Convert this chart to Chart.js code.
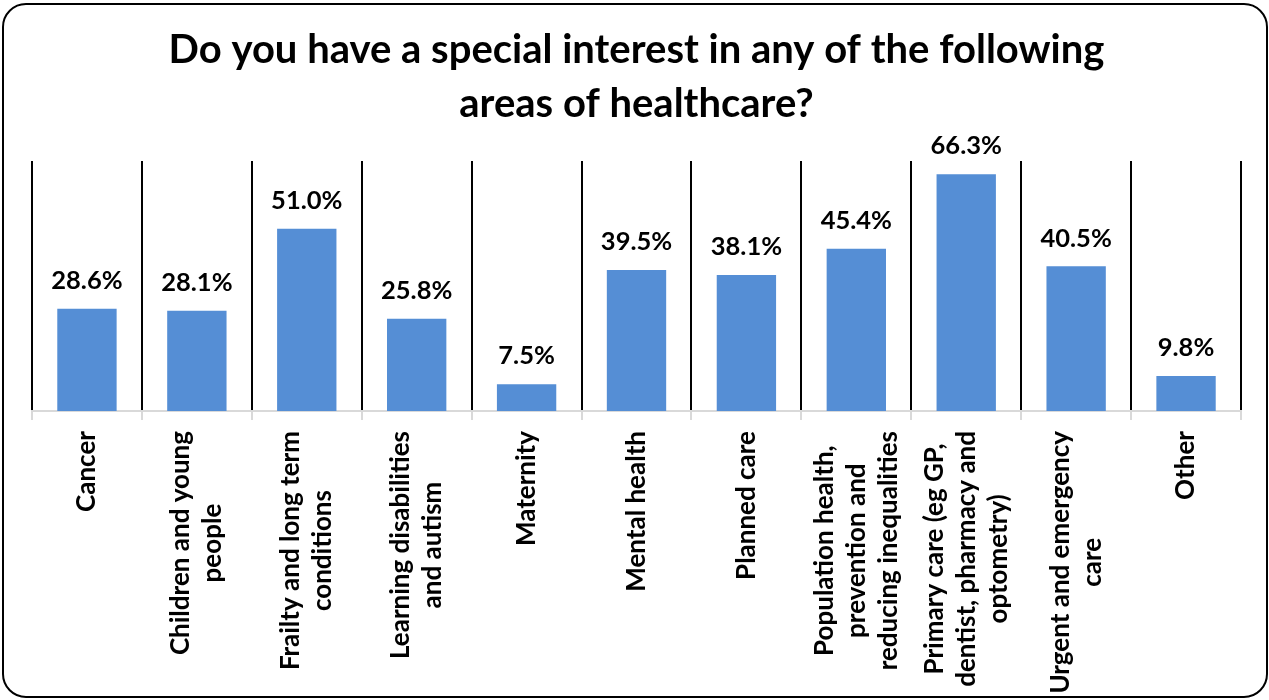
<!DOCTYPE html>
<html>
<head>
<meta charset="utf-8">
<title>Special interest areas</title>
<script src="https://cdn.jsdelivr.net/npm/chart.js@4.4.0/dist/chart.umd.min.js"></script>
<style>
  html, body { margin: 0; padding: 0; background: #fff; }
  #wrap { position: relative; width: 1269px; height: 700px; }
  #frame {
    position: absolute; left: 2px; top: 3px; width: 1266px; height: 695px;
    border: 2px solid #000; border-radius: 24px; box-sizing: border-box;
  }
  #chart { position: absolute; left: 0; top: 0; }
</style>
</head>
<body>
<div id="wrap">
  <div id="frame"></div>
  <canvas id="chart" width="1269" height="700"></canvas>
</div>
<script>
// Survey answers: share of respondents per area (%)
const areas = [
  ['Cancer'],
  ['Children and young', 'people'],
  ['Frailty and long term', 'conditions'],
  ['Learning disabilities', 'and autism'],
  ['Maternity'],
  ['Mental health'],
  ['Planned care'],
  ['Population health,', 'prevention and', 'reducing inequalities'],
  ['Primary care (eg GP,', 'dentist, pharmacy and', 'optometry)'],
  ['Urgent and emergency', 'care'],
  ['Other']
];
const shares = [28.6, 28.1, 51.0, 25.8, 7.5, 39.5, 38.1, 45.4, 66.3, 40.5, 9.8];
const titleLines = ['Do you have a special interest in any of the following', 'areas of healthcare?'];

const FONT = 'Lato, "Open Sans", sans-serif';

// value labels on top of the bars + rotated category names under the axis
const labelPlugin = {
  id: 'barLabels',
  afterDatasetsDraw(chart) {
    const ctx = chart.ctx;
    const meta = chart.getDatasetMeta(0);
    ctx.save();
    ctx.fillStyle = '#000';
    ctx.font = 'bold 25.5px ' + FONT;
    ctx.textAlign = 'center';
    ctx.textBaseline = 'middle';
    meta.data.forEach((bar, i) => {
      ctx.fillText(shares[i].toFixed(1) + '%', bar.x, bar.y - 28);
    });

    // names read bottom-to-top, lines centred on each other
    ctx.font = 'bold 26px ' + FONT;
    const xs = chart.scales.x;
    const top = chart.chartArea.bottom + 20;
    const lh = 32;
    areas.forEach((lines, i) => {
      const x = xs.getPixelForValue(i);
      const maxW = Math.max(...lines.map(l => ctx.measureText(l).width));
      ctx.save();
      ctx.translate(x, top);
      ctx.rotate(-Math.PI / 2);
      lines.forEach((line, j) => {
        ctx.fillText(line, -maxW / 2, (j - (lines.length - 1) / 2) * lh);
      });
      ctx.restore();
    });
    ctx.restore();
  }
};

new Chart(document.getElementById('chart'), {
  type: 'bar',
  data: {
    labels: areas,
    datasets: [{
      data: shares,
      backgroundColor: '#558ED5',
      barPercentage: 0.54,
      categoryPercentage: 1.0
    }]
  },
  options: {
    responsive: false,
    animation: false,
    layout: { padding: { left: 32, right: 28, top: 0, bottom: 280 } },
    plugins: {
      legend: { display: false },
      tooltip: { enabled: false },
      title: {
        display: true,
        text: titleLines,
        color: '#000',
        font: { family: FONT, size: 40, weight: 'bold', lineHeight: 1.35 },
        padding: { top: 23, bottom: 30 }
      }
    },
    scales: {
      x: {
        grid: {
          offset: true,
          color: '#000',
          lineWidth: 2,
          drawTicks: true,
          tickColor: '#d9d9d9',
          tickLength: 9
        },
        border: { color: '#d9d9d9', width: 2 },
        ticks: { display: false }
      },
      y: {
        display: false,
        min: 0,
        max: 70
      }
    }
  },
  plugins: [labelPlugin]
});
</script>
</body>
</html>
